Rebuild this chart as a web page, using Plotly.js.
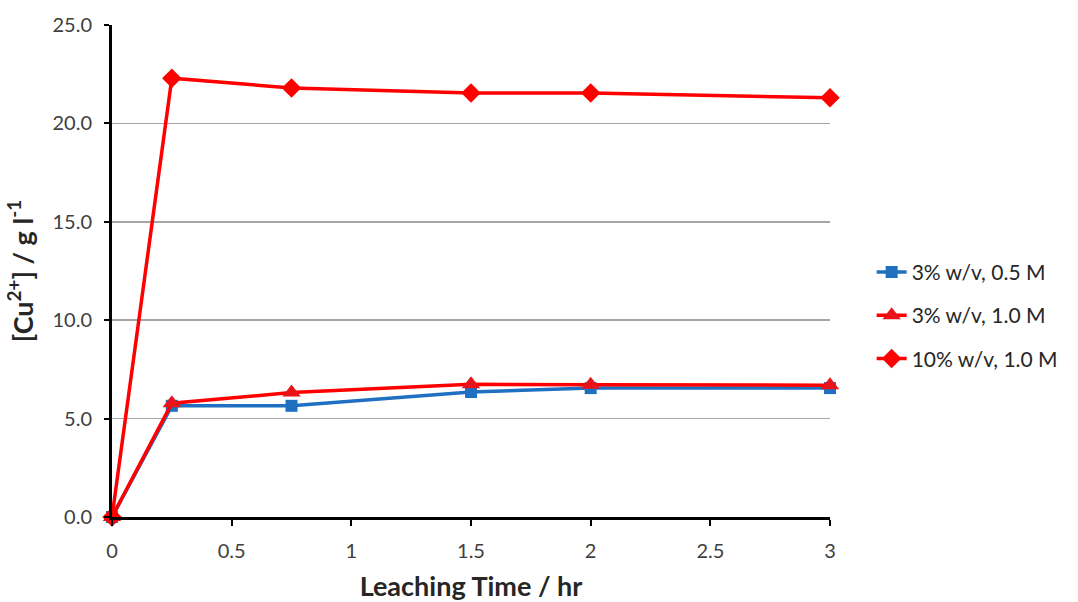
<!DOCTYPE html>
<html><head><meta charset="utf-8">
<script src="https://cdn.plot.ly/plotly-3.0.1.min.js"></script>
<style>html,body{margin:0;padding:0;background:#fff;}</style>
</head><body>
<div id="chart" style="width:1078px;height:602px;"></div>
<script>
const time = [0, 0.25, 0.75, 1.5, 2, 3];
const s1Name = "3% w/v, 0.5 M";
const s1 = [0, 5.65, 5.65, 6.35, 6.55, 6.55];
const s2Name = "3% w/v, 1.0 M";
const s2 = [0, 5.78, 6.32, 6.74, 6.72, 6.7];
const s3Name = "10% w/v, 1.0 M";
const s3 = [0, 22.3, 21.8, 21.55, 21.55, 21.3];
const yTicks = [0, 5, 10, 15, 20, 25];
const yTickText = ["0.0", "5.0", "10.0", "15.0", "20.0", "25.0"];
const xTicks = [0, 0.5, 1, 1.5, 2, 2.5, 3];
const xTickText = ["0", "0.5", "1", "1.5", "2", "2.5", "3"];

const font = "Lato, 'Open Sans', sans-serif";
const traces = [
  {x: time, y: s1, name: s1Name, mode: "lines+markers", legendgroup: "a",
   line: {color: "#1f70c1", width: 3.5}, marker: {symbol: "square", size: 12, color: "#1f70c1"}, cliponaxis: false},
  {x: time, y: s2, name: s2Name, mode: "lines+markers", legendgroup: "b",
   line: {color: "#ff0000", width: 3.5}, marker: {symbol: "triangle-up", size: 16, color: "#e8141c"}, cliponaxis: false},
  {x: time, y: s3, name: s3Name, mode: "lines+markers", legendgroup: "c",
   line: {color: "#ff0000", width: 3.5}, marker: {symbol: "diamond", size: 15, color: "#ff0000"}, cliponaxis: false}
];
const layout = {
  width: 1078, height: 602,
  margin: {l: 112, r: 248, t: 25, b: 85},
  paper_bgcolor: "#fff", plot_bgcolor: "#fff",
  font: {family: font, color: "#404040", size: 20},
  showlegend: true,
  legend: {x: 1.058, y: 0.41, xanchor: "left", yanchor: "middle", traceorder: "grouped", tracegroupgap: 13,
           font: {family: font, size: 21, color: "#262626"}, bgcolor: "rgba(0,0,0,0)"},
  xaxis: {range: [0, 3], tickvals: xTicks, ticktext: xTickText, showgrid: false, zeroline: false,
          showline: true, linecolor: "#000", linewidth: 2.5, ticks: "outside", ticklen: 6, tickwidth: 2, tickcolor: "#000",
          ticklabelstandoff: 8,
          tickfont: {family: font, size: 20, color: "#404040"},
          title: {text: "<b>Leaching Time / hr</b>", font: {family: font, size: 27, color: "#262626"}, standoff: 18}},
  yaxis: {range: [0, 25], tickvals: yTicks, ticktext: yTickText, showgrid: true, gridcolor: "#a6a6a6", gridwidth: 1.5,
          zeroline: false, showline: true, linecolor: "#000", linewidth: 3, ticks: "outside", ticklen: 5, tickwidth: 2, tickcolor: "#000",
          ticklabelstandoff: 8,
          tickfont: {family: font, size: 20, color: "#404040"},
          title: {text: "<b>[Cu<sup>2+</sup>] / g l<sup>-1</sup></b>", font: {family: font, size: 27, color: "#262626"}, standoff: 12}}
};
Plotly.newPlot("chart", traces, layout, {displayModeBar: false, staticPlot: true});
</script>
</body></html>
